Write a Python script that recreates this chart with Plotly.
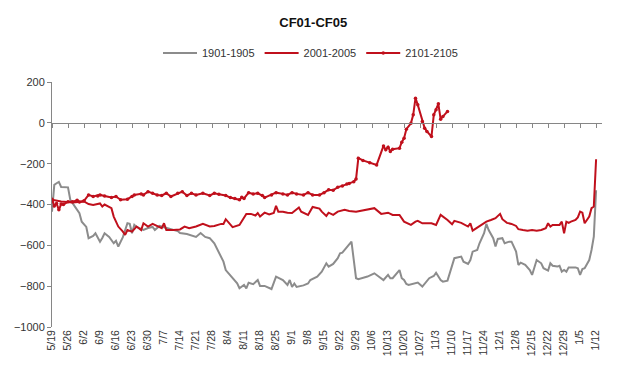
import plotly.graph_objects as go
import pandas as pd

# ---------------- data ----------------
tick_dates = pd.date_range("2020-05-19", "2021-01-12", freq="7D")
tick_labels = [f"{d.month}/{d.day}" for d in tick_dates]

s1901_dates = [
    "2020-05-19","2020-05-20","2020-05-21","2020-05-22","2020-05-23","2020-05-26","2020-05-27","2020-05-29",
    "2020-05-31","2020-06-01","2020-06-03","2020-06-04","2020-06-06","2020-06-07","2020-06-08","2020-06-09",
    "2020-06-10","2020-06-11","2020-06-13","2020-06-14","2020-06-15","2020-06-16","2020-06-17","2020-06-19",
    "2020-06-20","2020-06-21","2020-06-22","2020-06-23","2020-06-24","2020-06-25","2020-06-28","2020-06-30",
    "2020-07-02","2020-07-03","2020-07-05","2020-07-08","2020-07-11","2020-07-13","2020-07-14","2020-07-17",
    "2020-07-21","2020-07-23","2020-07-25","2020-07-27","2020-07-29","2020-07-31","2020-08-02","2020-08-03",
    "2020-08-05","2020-08-06","2020-08-08","2020-08-09","2020-08-11","2020-08-12","2020-08-13","2020-08-15",
    "2020-08-17","2020-08-18","2020-08-20","2020-08-23","2020-08-24","2020-08-25","2020-08-28","2020-08-30",
    "2020-08-31","2020-09-01","2020-09-02","2020-09-03","2020-09-06","2020-09-08","2020-09-09","2020-09-12",
    "2020-09-14","2020-09-16","2020-09-17","2020-09-19","2020-09-21","2020-09-22","2020-09-23","2020-09-24",
    "2020-09-26","2020-09-27","2020-09-29","2020-09-30","2020-10-04","2020-10-07","2020-10-11","2020-10-13",
    "2020-10-14","2020-10-15","2020-10-18","2020-10-19","2020-10-20","2020-10-21","2020-10-22","2020-10-24",
    "2020-10-26","2020-10-28","2020-10-29","2020-10-31","2020-11-02","2020-11-03","2020-11-05","2020-11-06",
    "2020-11-08","2020-11-09","2020-11-11","2020-11-14","2020-11-15","2020-11-17","2020-11-18","2020-11-19",
    "2020-11-21","2020-11-22","2020-11-24","2020-11-25","2020-11-26","2020-11-28","2020-11-29","2020-11-30",
    "2020-12-02","2020-12-03","2020-12-05","2020-12-06","2020-12-08","2020-12-09","2020-12-10","2020-12-12",
    "2020-12-14","2020-12-15","2020-12-16","2020-12-17","2020-12-19","2020-12-20","2020-12-22","2020-12-23",
    "2020-12-24","2020-12-26","2020-12-27","2020-12-28","2020-12-29","2020-12-30","2020-12-31","2021-01-03",
    "2021-01-04","2021-01-05","2021-01-06","2021-01-07","2021-01-09","2021-01-10","2021-01-11","2021-01-12",
]
s1901_values = [
    -435,-304,-296,-289,-314,-316,-377,-410,
    -443,-484,-510,-565,-554,-541,-559,-582,
    -564,-541,-559,-578,-590,-578,-606,-560,
    -525,-492,-495,-541,-500,-510,-525,-515,
    -510,-525,-505,-515,-525,-530,-540,-545,
    -559,-540,-559,-565,-590,-639,-680,-721,
    -745,-757,-786,-810,-794,-811,-783,-790,
    -770,-799,-799,-814,-778,-753,-770,-794,
    -770,-804,-787,-804,-796,-787,-770,-753,
    -729,-688,-704,-691,-663,-639,-636,-623,
    -598,-582,-761,-766,-753,-737,-770,-745,
    -761,-761,-721,-761,-770,-789,-794,-787,
    -782,-802,-787,-761,-750,-734,-770,-778,
    -773,-740,-663,-655,-680,-691,-672,-631,
    -623,-590,-541,-495,-525,-565,-606,-569,
    -565,-590,-582,-582,-631,-696,-685,-696,
    -721,-745,-704,-672,-688,-712,-724,-688,
    -700,-704,-700,-729,-721,-729,-708,-708,
    -712,-745,-716,-712,-672,-623,-557,-330,
]

s2001_dates = [
    "2020-05-19","2020-05-23","2020-05-28","2020-06-02","2020-06-04","2020-06-06","2020-06-09","2020-06-10",
    "2020-06-11","2020-06-14","2020-06-15","2020-06-16","2020-06-17","2020-06-19","2020-06-20","2020-06-21",
    "2020-06-23","2020-06-25","2020-06-27","2020-06-28","2020-06-30","2020-07-02","2020-07-04","2020-07-06",
    "2020-07-07","2020-07-08","2020-07-11","2020-07-14","2020-07-16","2020-07-18","2020-07-21","2020-07-24",
    "2020-07-27","2020-07-29","2020-08-01","2020-08-02","2020-08-03","2020-08-04","2020-08-06","2020-08-09",
    "2020-08-12","2020-08-14","2020-08-16","2020-08-17","2020-08-18","2020-08-20","2020-08-22","2020-08-24",
    "2020-08-25","2020-08-26","2020-08-28","2020-08-30","2020-09-01","2020-09-04","2020-09-05","2020-09-08",
    "2020-09-10","2020-09-13","2020-09-14","2020-09-16","2020-09-17","2020-09-19","2020-09-21","2020-09-24",
    "2020-09-26","2020-09-29","2020-10-07","2020-10-10","2020-10-13","2020-10-15","2020-10-18","2020-10-20",
    "2020-10-23","2020-10-25","2020-10-26","2020-10-28","2020-11-01","2020-11-03","2020-11-05","2020-11-08",
    "2020-11-10","2020-11-11","2020-11-14","2020-11-17","2020-11-18","2020-11-19","2020-11-20","2020-11-23",
    "2020-11-25","2020-11-27","2020-11-29","2020-12-01","2020-12-02","2020-12-04","2020-12-06","2020-12-08",
    "2020-12-09","2020-12-11","2020-12-13","2020-12-15","2020-12-17","2020-12-19","2020-12-21","2020-12-22",
    "2020-12-23","2020-12-24","2020-12-27","2020-12-28","2020-12-29","2020-12-30","2020-12-31","2021-01-01",
    "2021-01-03","2021-01-04","2021-01-05","2021-01-06","2021-01-07","2021-01-09","2021-01-10","2021-01-11",
    "2021-01-12",
]
s2001_values = [
    -377,-385,-390,-385,-398,-402,-395,-410,
    -400,-418,-459,-484,-508,-533,-549,-525,
    -533,-508,-525,-492,-508,-495,-505,-516,
    -492,-525,-525,-522,-508,-516,-508,-495,
    -508,-505,-495,-495,-472,-485,-511,-500,
    -446,-446,-454,-442,-459,-440,-449,-442,
    -407,-435,-435,-440,-442,-415,-435,-451,
    -412,-420,-435,-456,-440,-451,-435,-426,
    -432,-435,-418,-446,-440,-451,-451,-484,
    -500,-484,-480,-492,-492,-500,-451,-476,
    -497,-480,-490,-508,-492,-528,-521,-500,
    -484,-476,-467,-446,-472,-490,-495,-505,
    -521,-525,-528,-525,-528,-525,-516,-492,
    -508,-500,-500,-484,-541,-484,-490,-484,
    -476,-463,-435,-440,-492,-459,-418,-410,
    -178,
]

s2101_dates = [
    "2020-05-19","2020-05-20","2020-05-21","2020-05-22","2020-05-23","2020-05-24","2020-05-26","2020-05-28",
    "2020-05-30","2020-05-31","2020-06-02","2020-06-04","2020-06-06","2020-06-08","2020-06-09","2020-06-11",
    "2020-06-14","2020-06-16","2020-06-18","2020-06-21","2020-06-23","2020-06-24","2020-06-27","2020-06-28",
    "2020-06-30","2020-07-02","2020-07-04","2020-07-06","2020-07-08","2020-07-10","2020-07-13","2020-07-15",
    "2020-07-17","2020-07-19","2020-07-21","2020-07-24","2020-07-27","2020-07-29","2020-07-31","2020-08-03",
    "2020-08-05","2020-08-07","2020-08-09","2020-08-10","2020-08-11","2020-08-13","2020-08-15","2020-08-17",
    "2020-08-19","2020-08-20","2020-08-23","2020-08-25","2020-08-28","2020-08-30","2020-09-01","2020-09-03",
    "2020-09-06","2020-09-08","2020-09-10","2020-09-13","2020-09-15","2020-09-17","2020-09-19","2020-09-21",
    "2020-09-23","2020-09-25","2020-09-26","2020-09-28","2020-09-29","2020-09-30","2020-10-02","2020-10-05",
    "2020-10-08","2020-10-11","2020-10-12","2020-10-13","2020-10-14","2020-10-15","2020-10-18","2020-10-19",
    "2020-10-20","2020-10-21","2020-10-23","2020-10-24","2020-10-25","2020-10-26","2020-10-28","2020-10-29",
    "2020-10-30","2020-11-01","2020-11-02","2020-11-03","2020-11-04","2020-11-05","2020-11-06","2020-11-08",
]
s2101_values = [
    -374,-407,-395,-426,-398,-400,-387,-387,
    -379,-388,-382,-353,-361,-358,-353,-358,
    -366,-361,-377,-374,-361,-353,-348,-353,
    -337,-345,-353,-356,-345,-361,-345,-337,
    -356,-345,-353,-345,-356,-345,-350,-356,
    -366,-371,-377,-364,-370,-342,-348,-345,
    -356,-366,-353,-342,-348,-353,-342,-348,
    -353,-342,-353,-353,-342,-328,-330,-315,
    -309,-299,-297,-288,-275,-173,-184,-196,
    -206,-113,-132,-119,-140,-129,-124,-95,
    -75,-31,-2,39,121,88,6,-26,
    -42,-67,39,64,93,18,31,56,
]

series_names = ["1901-1905", "2001-2005", "2101-2105"]
gray = "#8c8c8c"
red = "#c0101c"
axis_gray = "#868686"
font_family = "Liberation Sans, Arial, sans-serif"

# ---------------- figure ----------------
fig = go.Figure()
fig.add_trace(go.Scatter(x=s1901_dates, y=s1901_values, name=series_names[0], mode="lines",
                         line=dict(color=gray, width=2)))
fig.add_trace(go.Scatter(x=s2001_dates, y=s2001_values, name=series_names[1], mode="lines",
                         line=dict(color=red, width=2)))
fig.add_trace(go.Scatter(x=s2101_dates, y=s2101_values, name=series_names[2], mode="lines+markers",
                         line=dict(color=red, width=2), marker=dict(color=red, size=3.5)))
# invisible helpers so the extra x axes (zero-line ticks, odd tick labels) are drawn
for ax in ("x2", "x3"):
    fig.add_trace(go.Scatter(x=s2101_dates, y=s2101_values, xaxis=ax, mode="lines",
                             line=dict(width=0), showlegend=False, hoverinfo="skip", opacity=0))

x_range = ["2020-05-19", "2021-01-14 14:00"]
y_min, y_max = -1000, 200
even_vals = list(tick_dates[0::2])
even_text = tick_labels[0::2]
odd_vals = list(tick_dates[1::2])
odd_text = tick_labels[1::2]

label_axis = dict(type="date", range=x_range, tickmode="array", tickangle=-90,
                  showgrid=False, showline=False, zeroline=False, ticks="",
                  automargin=False, ticklabeloverflow="allow",
                  tickfont=dict(size=10.5, color="#333333"))

fig.update_layout(
    width=631, height=378,
    margin=dict(l=52, r=29, t=82, b=51, autoexpand=False),
    paper_bgcolor="white", plot_bgcolor="white",
    font=dict(family=font_family, size=11, color="#333333"),
    title=dict(text="<b>CF01-CF05</b>", x=0.475, xanchor="center", xref="paper",
               y=1 - 22 / 378, yanchor="middle", yref="container",
               font=dict(family=font_family, size=13, color="#111111")),
    legend=dict(orientation="h", x=0.47, xanchor="center", xref="paper",
                y=1 - 53 / 378, yanchor="middle", yref="container",
                font=dict(size=11, color="#333333"), itemwidth=34, tracegroupgap=0,
                bgcolor="rgba(0,0,0,0)"),
    showlegend=True,
    xaxis=dict(label_axis, tickvals=even_vals, ticktext=even_text),
    xaxis3=dict(label_axis, tickvals=odd_vals, ticktext=odd_text, overlaying="x",
                anchor="y", side="bottom"),
    xaxis2=dict(type="date", range=x_range, overlaying="x", anchor="free",
                position=(0 - y_min) / (y_max - y_min), side="bottom",
                tickmode="array", tickvals=list(tick_dates), showticklabels=False,
                ticks="outside", ticklen=4, tickcolor=axis_gray, showline=True,
                linecolor=axis_gray, linewidth=1, showgrid=False, zeroline=False),
    yaxis=dict(range=[y_min, y_max], dtick=200, showgrid=False, zeroline=False,
               showline=True, linecolor=axis_gray, linewidth=1, ticks="outside",
               ticklen=4, tickcolor=axis_gray, automargin=False,
               tickfont=dict(size=11, color="#333333")),
)

fig.write_html("out.html", config={"displayModeBar": False},
               post_script="document.body.style.margin='0';")
